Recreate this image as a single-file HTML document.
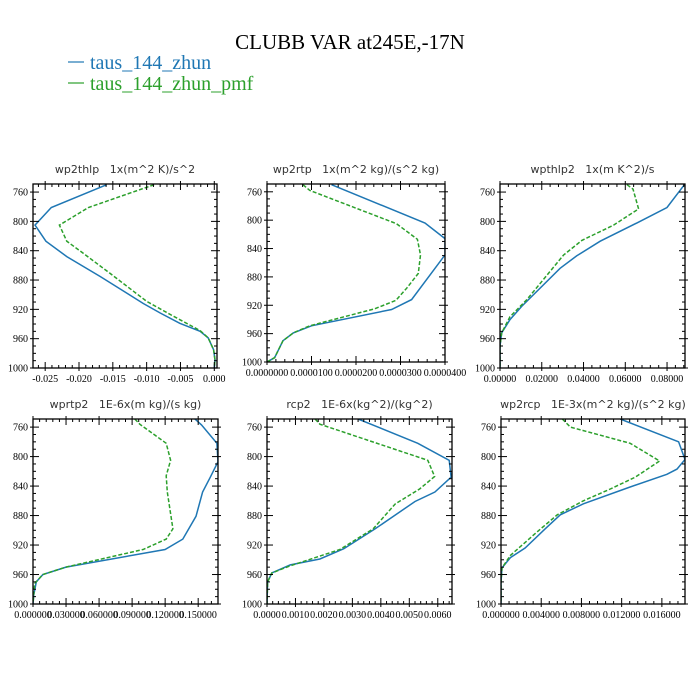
<!DOCTYPE html>
<html><head><meta charset="utf-8"><style>
body{margin:0;background:#fff;}
svg{display:block;}
.tl{font-family:"Liberation Serif",serif;font-size:10px;fill:#000;}
.pt{font-family:"DejaVu Sans","Liberation Sans",sans-serif;font-size:11px;fill:#333;}
</style></head><body>
<svg id="chart" width="700" height="700" viewBox="0 0 700 700">
<text x="350" y="49" text-anchor="middle" font-family="Liberation Serif,serif" font-size="21">CLUBB VAR at245E,-17N</text>
<g>
<line x1="68" y1="62" x2="84" y2="62" stroke="#1f77b4" stroke-width="1.2"/>
<text x="90" y="69" font-family="Liberation Serif,serif" font-size="20" fill="#1f77b4">taus_144_zhun</text>
<line x1="68" y1="83" x2="84" y2="83" stroke="#2ca02c" stroke-width="1.2"/>
<text x="90" y="90" font-family="Liberation Serif,serif" font-size="20" fill="#2ca02c">taus_144_zhun_pmf</text>
</g>
</svg>
<script>
// shared data
const yTicks=[760,800,840,880,920,960,1000];
// panel 1
const p1Title="wp2thlp   1x(m^2 K)/s^2";
const p1XTicks=[-0.025,-0.020,-0.015,-0.010,-0.005,0.000];
const p1XLabels=["-0.025","-0.020","-0.015","-0.010","-0.005","0.000"];
const p1ALev=[750,781,805,827,848,875,912,925,939,950,959,975,989,1000];
const p1AVal=[-0.0159,-0.0241,-0.0265,-0.0249,-0.0218,-0.0169,-0.0105,-0.0080,-0.0051,-0.0021,-0.0009,-0.0001,0.0001,0];
const p1BLev=[750,781,805,827,844,871,909,927,949,959,975,989,1000];
const p1BVal=[-0.0089,-0.0186,-0.0229,-0.0218,-0.0193,-0.0154,-0.0100,-0.0065,-0.0021,-0.0009,-0.0001,0.0001,0];
// panel 2
const p2Title="wp2rtp   1x(m^2 kg)/(s^2 kg)";
const p2XTicks=[0,1e-5,2e-5,3e-5,4e-5];
const p2XLabels=["0.0000000","0.0000100","0.0000200","0.0000300","0.0000400"];
const p2ALev=[750,804,826,849,865,912,926,949,959,970,994,1000];
const p2AVal=[1.45e-5,3.55e-5,4.0e-5,4.0e-5,3.81e-5,3.25e-5,2.8e-5,1.0e-5,0.59e-5,0.36e-5,0.17e-5,0];
const p2BLev=[750,758,805,827,849,875,896,913,925,949,959,970,994,1000];
const p2BVal=[0.81e-5,0.96e-5,2.91e-5,3.38e-5,3.45e-5,3.40e-5,3.14e-5,2.9e-5,2.42e-5,0.96e-5,0.59e-5,0.36e-5,0.17e-5,0];
// panel 3
const p3Title="wpthlp2   1x(m K^2)/s";
const p3XTicks=[0,0.02,0.04,0.06,0.08];
const p3XLabels=["0.00000","0.02000","0.04000","0.06000","0.08000"];
const p3ALev=[750,781,802,827,847,864,916,934,952,970,1000];
const p3AVal=[0.0883,0.080,0.0656,0.048,0.0368,0.0288,0.0104,0.0048,0.0008,0,0];
const p3BLev=[750,756,783,805,826,846,907,930,952,970,1000];
const p3BVal=[0.0608,0.0637,0.0664,0.0544,0.0392,0.0304,0.0128,0.0048,0.0008,0,0];
// panel 4
const p4Title="wprtp2   1E-6x(m kg)/(s kg)";
const p4XTicks=[0,0.03,0.06,0.09,0.12,0.15];
const p4XLabels=["0.000000","0.030000","0.060000","0.090000","0.120000","0.150000"];
const p4ALev=[749,757,782,807,828,848,881,912,926,950,960,970,988,1000];
const p4AVal=[0.147,0.153,0.167,0.168,0.161,0.154,0.148,0.136,0.120,0.030,0.009,0.003,0.0006,0];
const p4BLev=[749,756,782,805,826,848,898,912,926,950,960,972,988,1000];
const p4BVal=[0.0924,0.097,0.121,0.125,0.121,0.122,0.127,0.121,0.100,0.030,0.009,0.0015,0.0006,0];
// panel 5
const p5Title="rcp2   1E-6x(kg^2)/(kg^2)";
const p5XTicks=[0,0.001,0.002,0.003,0.004,0.005,0.006];
const p5XLabels=["0.0000","0.0010","0.0020","0.0030","0.0040","0.0050","0.0060"];
const p5ALev=[749,782,805,828,848,861,898,925,939,947,958,970,1000];
const p5AVal=[0.0032,0.0053,0.0064,0.00647,0.0059,0.0052,0.0038,0.0027,0.00186,0.00082,0.00017,0.00002,0];
const p5BLev=[749,756,805,827,844,864,898,926,949,958,970,1000];
const p5BVal=[0.00169,0.00186,0.00565,0.00589,0.00536,0.00451,0.00373,0.00256,0.00076,0.00017,0.00002,0];
// panel 6
const p6Title="wp2rcp   1E-3x(m^2 kg)/(s^2 kg)";
const p6XTicks=[0,0.004,0.008,0.012,0.016];
const p6XLabels=["0.000000","0.004000","0.008000","0.012000","0.016000"];
const p6ALev=[749,780,804,817,824,842,864,879,898,924,937,951,970,1000];
const p6AVal=[0.01186,0.01766,0.0183,0.0175,0.0165,0.0127,0.0082,0.0059,0.0044,0.0024,0.00093,0.0001,0,0];
const p6BLev=[749,760,782,806,828,844,860,879,902,934,951,970,1000];
const p6BVal=[0.0061,0.0069,0.01285,0.01577,0.01335,0.01087,0.0082,0.0056,0.0036,0.00093,0.0001,0,0];

const panels=[
 {id:"wp2thlp",t:p1Title,xt:p1XTicks,xl:p1XLabels,dom:[-0.0268,0.0004],box:[33,184,217,368],a:[p1ALev,p1AVal],b:[p1BLev,p1BVal]},
 {id:"wp2rtp",t:p2Title,xt:p2XTicks,xl:p2XLabels,dom:[0,4.0e-5],box:[267,184,445,362],a:[p2ALev,p2AVal],b:[p2BLev,p2BVal]},
 {id:"wpthlp2",t:p3Title,xt:p3XTicks,xl:p3XLabels,dom:[0,0.0886],box:[500,184,685,368],a:[p3ALev,p3AVal],b:[p3BLev,p3BVal]},
 {id:"wprtp2",t:p4Title,xt:p4XTicks,xl:p4XLabels,dom:[0,0.168],box:[33,419,218,604],a:[p4ALev,p4AVal],b:[p4BLev,p4BVal]},
 {id:"rcp2",t:p5Title,xt:p5XTicks,xl:p5XLabels,dom:[0,0.0065],box:[267,419,452,604],a:[p5ALev,p5AVal],b:[p5BLev,p5BVal]},
 {id:"wp2rcp",t:p6Title,xt:p6XTicks,xl:p6XLabels,dom:[0,0.0183],box:[501,419,685,604],a:[p6ALev,p6AVal],b:[p6BLev,p6BVal]}
];
const NS="http://www.w3.org/2000/svg";
const svg=document.getElementById('chart');
function mk(tag,attrs,parent){const e=document.createElementNS(NS,tag);for(const k in attrs)e.setAttribute(k,attrs[k]);parent.appendChild(e);return e;}
const Y0=749,Y1=1000;
panels.forEach(p=>{
 const [L,T,R,B]=p.box;
 const sx=v=>L+(v-p.dom[0])/(p.dom[1]-p.dom[0])*(R-L);
 const sy=v=>T+(v-Y0)/(Y1-Y0)*(B-T);
 const g=mk('g',{},svg);
 
 
 const tt=mk('text',{x:(L+R)/2,y:T-11,'text-anchor':'middle','class':'pt','xml:space':'preserve'},g);
 
 
 tt.textContent=p.t.replace(/ /g,'\u00a0');
 const clip=mk('clipPath',{id:'c-'+p.id},g);
 mk('rect',{x:L,y:T,width:R-L,height:B-T},clip);
 // series
 [[p.a,'#1f77b4',null,'series-zhun'],[p.b,'#2ca02c','4,2','series-pmf']].forEach(([s,c,d,n])=>{
  const pts=s[0].map((lv,i)=>sx(s[1][i]).toFixed(1)+','+sy(lv).toFixed(1)).join(' ');
  const pl=mk('polyline',{points:pts,fill:'none',stroke:c,'stroke-width':1.5,'clip-path':'url(#c-'+p.id+')'},g);
  if(d)pl.setAttribute('stroke-dasharray',d);
  
  
 });
 // frame
 const fr=mk('rect',{x:L,y:T,width:R-L,height:B-T,fill:'none',stroke:'#000','stroke-width':1.3},g);
 
 
 // y ticks
 for(let v=760;v<=1000;v+=10){
  const y=sy(v);const maj=(v-760)%40===0;const len=maj?6:3;
  mk('line',{x1:L,y1:y,x2:L+len,y2:y,stroke:'#000','stroke-width':1},g);
  mk('line',{x1:R,y1:y,x2:R-len,y2:y,stroke:'#000','stroke-width':1},g);
  if(maj){mk('line',{x1:L,y1:y,x2:L-3,y2:y,stroke:'#000','stroke-width':1},g);mk('line',{x1:R,y1:y,x2:R+3,y2:y,stroke:'#000','stroke-width':1},g);}
 }
 yTicks.forEach(v=>{
  const t=mk('text',{x:L-5,y:sy(v)+3.5,'text-anchor':'end','class':'tl'},g);
  
  
  t.textContent=v;
 });
 // x ticks
 const step=p.xt[1]-p.xt[0];
 for(let i=-10;i<=p.xt.length*5+10;i++){
  const v=p.xt[0]+i*step/5;const x=sx(v);
  if(x<L-0.5||x>R+0.5)continue;
  const maj=i%5===0;const len=maj?6:3;
  mk('line',{x1:x,y1:B,x2:x,y2:B-len,stroke:'#000','stroke-width':1},g);
  mk('line',{x1:x,y1:T,x2:x,y2:T+len,stroke:'#000','stroke-width':1},g);
  if(maj){mk('line',{x1:x,y1:B,x2:x,y2:B+3,stroke:'#000','stroke-width':1},g);mk('line',{x1:x,y1:T,x2:x,y2:T-3,stroke:'#000','stroke-width':1},g);}
 }
 p.xt.forEach((v,i)=>{
  const t=mk('text',{x:sx(v),y:B+14,'text-anchor':'middle','class':'tl'},g);
  
  
  t.textContent=p.xl[i];
 });
});
</script>
</body></html>
